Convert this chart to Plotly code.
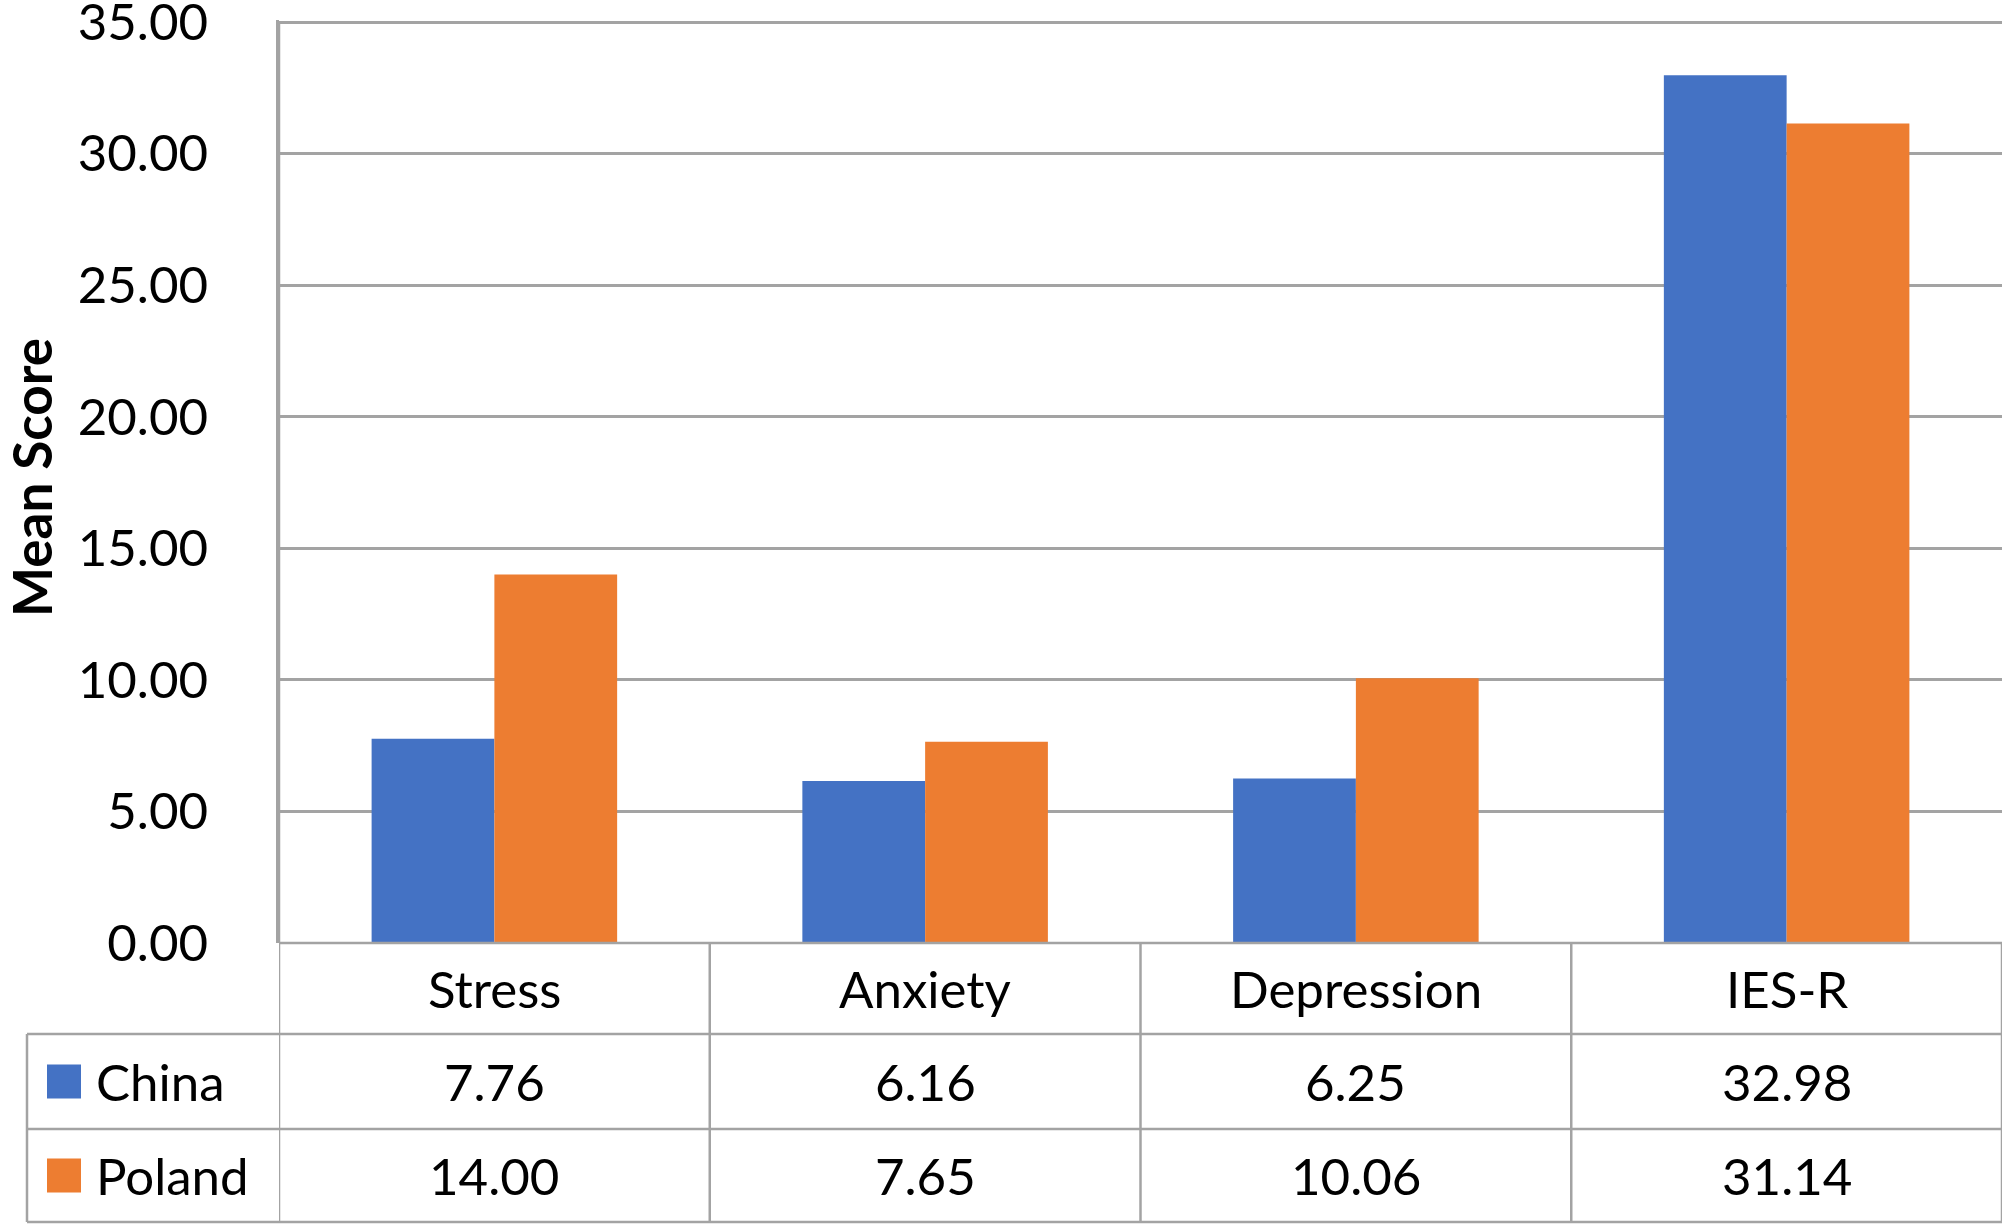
import plotly.graph_objects as go

categories = ["Stress", "Anxiety", "Depression", "IES-R"]
series_names = ["China", "Poland"]
china = [7.76, 6.16, 6.25, 32.98]
poland = [14.00, 7.65, 10.06, 31.14]
colors = ["#4472C4", "#ED7D31"]
y_ticks = [0, 5, 10, 15, 20, 25, 30, 35]
y_title = "Mean Score"

W, H = 2005, 1226
FONT = "Lato"
GRID = "#A3A3A3"
LW = 2.5

def py(p):
    return 1 - p / H

def px(p):
    return p / W

x_left, x_right = 279, 2002
y_zero, y_top = 943, 22
y_max = 35.08
unit = (y_zero - y_top) / 35.0
y_dom_top = y_zero - y_max * unit
rows = [943, 1034, 1129, 1222]
leg_left = 27

fig = go.Figure()
for name, vals, col in zip(series_names, [china, poland], colors):
    fig.add_trace(go.Bar(x=categories, y=vals, name=name, marker=dict(color=col, line=dict(width=0))))

shapes = []
shapes.append(dict(type="line", xref="paper", yref="paper", x0=px(x_left), x1=px(x_right),
                   y0=py(rows[0]), y1=py(rows[0]), line=dict(color=GRID, width=LW)))
for r in rows[1:]:
    shapes.append(dict(type="line", xref="paper", yref="paper", x0=px(leg_left), x1=px(x_right),
                       y0=py(r), y1=py(r), line=dict(color=GRID, width=LW)))
for i in range(len(categories) + 1):
    xv = i - 0.5
    y_start = py(y_top) if i == 0 else py(rows[0])
    shapes.append(dict(type="line", xref="x", yref="paper", x0=xv, x1=xv,
                       y0=y_start, y1=py(rows[-1]), line=dict(color=GRID, width=LW)))
shapes.append(dict(type="line", xref="paper", yref="paper", x0=px(leg_left), x1=px(leg_left),
                   y0=py(rows[1]), y1=py(rows[-1]), line=dict(color=GRID, width=LW)))

annotations = []
txt_font = dict(family=FONT, size=51, color="#000000")
for c in categories:
    annotations.append(dict(x=c, xref="x", y=py((rows[0] + rows[1]) / 2), yref="paper",
                            text=c, showarrow=False, xanchor="center", yanchor="middle", font=txt_font))
for ri, (name, vals, col) in enumerate(zip(series_names, [china, poland], colors)):
    yc = (rows[ri + 1] + rows[ri + 2]) / 2
    for c, v in zip(categories, vals):
        annotations.append(dict(x=c, xref="x", y=py(yc), yref="paper", text=f"{v:.2f}",
                                showarrow=False, xanchor="center", yanchor="middle", font=txt_font))
    shapes.append(dict(type="rect", xref="paper", yref="paper", x0=px(47), x1=px(81),
                       y0=py(yc - 17), y1=py(yc + 17), fillcolor=col, line=dict(width=0)))
    annotations.append(dict(x=px(94), xref="paper", y=py(yc), yref="paper", text=name,
                            showarrow=False, xanchor="left", yanchor="middle", font=txt_font))
annotations.append(dict(x=px(31), xref="paper", y=py(478), yref="paper", text=f"<b>{y_title}</b>",
                        textangle=-90, showarrow=False, xanchor="center", yanchor="middle",
                        font=dict(family=FONT, size=53, color="#000000")))

fig.update_layout(
    width=W, height=H, autosize=False,
    margin=dict(l=0, r=0, t=0, b=0, pad=0),
    paper_bgcolor="white", plot_bgcolor="white",
    barmode="group", bargap=0.43, bargroupgap=0,
    showlegend=False,
    font=dict(family=FONT, color="#000000"),
    xaxis=dict(domain=[px(x_left), px(x_right)], range=[-0.5, 3.5], showticklabels=False,
               showgrid=False, zeroline=False, showline=False, ticks="", automargin=False),
    yaxis=dict(domain=[py(y_zero), py(y_dom_top)], range=[0, y_max], tickvals=y_ticks,
               tickformat=".2f", showgrid=True, gridcolor=GRID, gridwidth=LW,
               zeroline=False, showline=True, linecolor=GRID, linewidth=LW,
               ticks="", ticklabelstandoff=58, ticklabeloverflow="allow", automargin=False,
               tickfont=dict(family=FONT, size=51, color="#000000")),
    shapes=shapes, annotations=annotations,
)

post = (
    "document.documentElement.style.margin='0';"
    "document.body.style.margin='0';"
    "document.documentElement.style.overflow='hidden';"
    "document.body.style.overflow='hidden';"
)

fig.write_html("out.html", config={"displayModeBar": False}, post_script=post)
